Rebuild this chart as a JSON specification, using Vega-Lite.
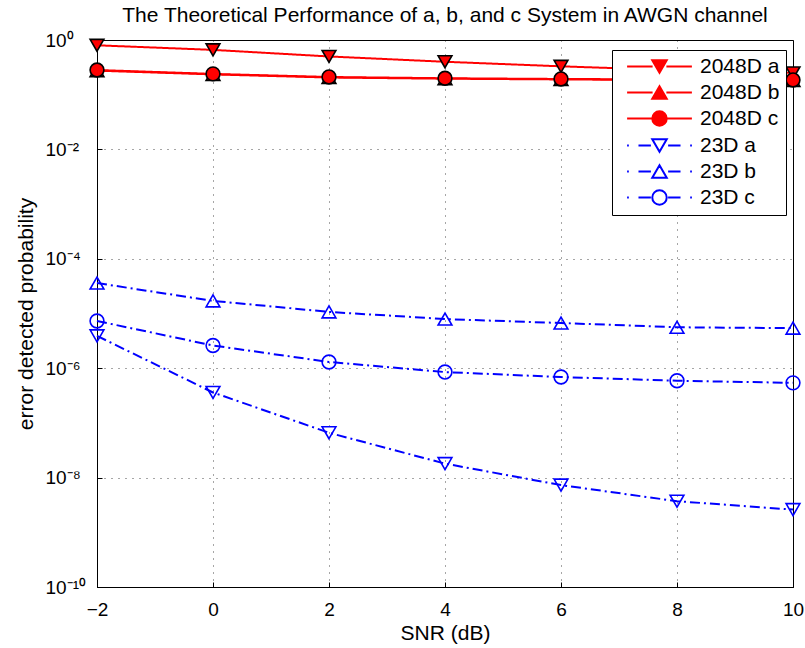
{
  "$schema": "https://vega.github.io/schema/vega-lite/v6.json",
  "width": 696,
  "height": 547,
  "autosize": {"type": "none"},
  "padding": {"left": 97, "top": 40, "right": 12, "bottom": 61},
  "background": "white",
  "title": {
    "text": "The Theoretical Performance of a, b, and c System in AWGN channel",
    "font": "Liberation Sans",
    "fontSize": 21,
    "fontWeight": "normal",
    "color": "black",
    "anchor": "middle",
    "frame": "group",
    "offset": 5
  },
  "data": {
    "values": [
      {"series": "2048D a", "snr": -2, "p": 0.8},
      {"series": "2048D a", "snr": 0, "p": 0.66},
      {"series": "2048D a", "snr": 2, "p": 0.5},
      {"series": "2048D a", "snr": 4, "p": 0.4},
      {"series": "2048D a", "snr": 6, "p": 0.33},
      {"series": "2048D a", "snr": 8, "p": 0.28},
      {"series": "2048D a", "snr": 10, "p": 0.25},
      {"series": "2048D b", "snr": -2, "p": 0.275},
      {"series": "2048D b", "snr": 0, "p": 0.235},
      {"series": "2048D b", "snr": 2, "p": 0.206},
      {"series": "2048D b", "snr": 4, "p": 0.196},
      {"series": "2048D b", "snr": 6, "p": 0.19},
      {"series": "2048D b", "snr": 8, "p": 0.185},
      {"series": "2048D b", "snr": 10, "p": 0.182},
      {"series": "2048D c", "snr": -2, "p": 0.283},
      {"series": "2048D c", "snr": 0, "p": 0.24},
      {"series": "2048D c", "snr": 2, "p": 0.211},
      {"series": "2048D c", "snr": 4, "p": 0.2},
      {"series": "2048D c", "snr": 6, "p": 0.194},
      {"series": "2048D c", "snr": 8, "p": 0.19},
      {"series": "2048D c", "snr": 10, "p": 0.186},
      {"series": "23D a", "snr": -2, "p": 3.9e-6},
      {"series": "23D a", "snr": 0, "p": 3.6e-7},
      {"series": "23D a", "snr": 2, "p": 6.6e-8},
      {"series": "23D a", "snr": 4, "p": 1.8e-8},
      {"series": "23D a", "snr": 6, "p": 7.3e-9},
      {"series": "23D a", "snr": 8, "p": 3.7e-9},
      {"series": "23D a", "snr": 10, "p": 2.6e-9},
      {"series": "23D b", "snr": -2, "p": 3.6e-5},
      {"series": "23D b", "snr": 0, "p": 1.7e-5},
      {"series": "23D b", "snr": 2, "p": 1.07e-5},
      {"series": "23D b", "snr": 4, "p": 7.9e-6},
      {"series": "23D b", "snr": 6, "p": 6.7e-6},
      {"series": "23D b", "snr": 8, "p": 5.6e-6},
      {"series": "23D b", "snr": 10, "p": 5.4e-6},
      {"series": "23D c", "snr": -2, "p": 7.3e-6},
      {"series": "23D c", "snr": 0, "p": 2.6e-6},
      {"series": "23D c", "snr": 2, "p": 1.3e-6},
      {"series": "23D c", "snr": 4, "p": 8.5e-7},
      {"series": "23D c", "snr": 6, "p": 6.9e-7},
      {"series": "23D c", "snr": 8, "p": 5.9e-7},
      {"series": "23D c", "snr": 10, "p": 5.4e-7}
    ]
  },
  "encoding": {
    "x": {
      "field": "snr",
      "type": "quantitative",
      "title": "SNR (dB)",
      "scale": {"domain": [-2, 10], "nice": false, "zero": false},
      "axis": {"values": [-2, 0, 2, 4, 6, 8, 10], "grid": true, "tickSize": -5, "labelPadding": 18, "titlePadding": 3, "labelFlush": false, "labelFontSize": 19}
    },
    "y": {
      "field": "p",
      "type": "quantitative",
      "title": "error detected probability",
      "scale": {"type": "log", "domain": [1e-10, 1], "nice": false},
      "axis": {
        "values": [1e-10, 1e-8, 1e-6, 1e-4, 1e-2, 1],
        "grid": true,
        "tickSize": -5,
        "labelPadding": 57,
        "labelAlign": "left",
        "labelFontSize": 19,
        "titlePadding": 9,
        "labelFlush": false,
        "labelExpr": "'10' + ['⁰','⁻²','⁻⁴','⁻⁶','⁻⁸','⁻¹⁰'][round(-log(datum.value)/LN10/2)]"
      }
    }
  },
  "layer": [
    {
      "data": {
        "values": [
          {"series": "2048D a"},
          {"series": "2048D b"},
          {"series": "2048D c"},
          {"series": "23D a"},
          {"series": "23D b"},
          {"series": "23D c"}
        ]
      },
      "mark": {"type": "point", "strokeWidth": 2, "size": 190, "opacity": 1},
      "encoding": {
        "shape": {
          "field": "series",
          "type": "nominal",
          "scale": {
            "domain": ["2048D a", "2048D b", "2048D c", "23D a", "23D b", "23D c"],
            "range": [
              "M-4.7,0H-1M1,0H4.7M-1.05,-0.9L1.05,-0.9L0,0.9Z",
              "M-4.7,0H-1M1,0H4.7M-1.05,0.9L1.05,0.9L0,-0.9Z",
              "M-4.7,0H-1M1,0H4.7M-1.05,0A1.05,1.05,0,1,0,1.05,0A1.05,1.05,0,1,0,-1.05,0Z",
              "M-4.7,0H-4.45M-3.05,0H-1.25M1.25,0H3.05M4.45,0H4.7M-1.05,-0.9L1.05,-0.9L0,0.9Z",
              "M-4.7,0H-4.45M-3.05,0H-1.25M1.25,0H3.05M4.45,0H4.7M-1.05,0.9L1.05,0.9L0,-0.9Z",
              "M-4.7,0H-4.45M-3.05,0H-1.25M1.25,0H3.05M4.45,0H4.7M-1.05,0A1.05,1.05,0,1,0,1.05,0A1.05,1.05,0,1,0,-1.05,0Z"
            ]
          },
          "legend": {"title": null, "orient": "none", "legendX": 515, "legendY": 10, "symbolOpacity": 1}
        },
        "stroke": {
          "field": "series",
          "type": "nominal",
          "scale": {
            "domain": ["2048D a", "2048D b", "2048D c", "23D a", "23D b", "23D c"],
            "range": ["#ff0000", "#ff0000", "#ff0000", "#0000ff", "#0000ff", "#0000ff"]
          },
          "legend": {"title": null, "orient": "none", "legendX": 515, "legendY": 10, "symbolOpacity": 1}
        },
        "fill": {
          "field": "series",
          "type": "nominal",
          "scale": {
            "domain": ["2048D a", "2048D b", "2048D c", "23D a", "23D b", "23D c"],
            "range": ["#ff0000", "#ff0000", "#ff0000", "transparent", "transparent", "transparent"]
          },
          "legend": {"title": null, "orient": "none", "legendX": 515, "legendY": 10, "symbolOpacity": 1}
        }
      }
    },
    {
      "mark": {"type": "line", "strokeWidth": 2},
      "encoding": {
        "color": {
          "field": "series",
          "type": "nominal",
          "scale": {
            "domain": ["2048D a", "2048D b", "2048D c", "23D a", "23D b", "23D c"],
            "range": ["#ff0000", "#ff0000", "#ff0000", "#0000ff", "#0000ff", "#0000ff"]
          },
          "legend": null
        },
        "strokeDash": {
          "field": "series",
          "type": "nominal",
          "scale": {
            "domain": ["2048D a", "2048D b", "2048D c", "23D a", "23D b", "23D c"],
            "range": [[1, 0], [1, 0], [1, 0], [10, 4, 2, 4], [10, 4, 2, 4], [10, 4, 2, 4]]
          },
          "legend": null
        }
      }
    },
    {
      "mark": {"type": "point", "size": 190, "strokeWidth": 1.6, "opacity": 1},
      "encoding": {
        "shape": {
          "field": "series",
          "type": "nominal",
          "scale": {
            "domain": ["2048D a", "2048D b", "2048D c", "23D a", "23D b", "23D c"],
            "range": ["triangle-down", "triangle-up", "circle", "triangle-down", "triangle-up", "circle"]
          },
          "legend": null
        },
        "stroke": {
          "field": "series",
          "type": "nominal",
          "scale": {
            "domain": ["2048D a", "2048D b", "2048D c", "23D a", "23D b", "23D c"],
            "range": ["#000000", "#000000", "#000000", "#0000ff", "#0000ff", "#0000ff"]
          },
          "legend": null
        },
        "fill": {
          "field": "series",
          "type": "nominal",
          "scale": {
            "domain": ["2048D a", "2048D b", "2048D c", "23D a", "23D b", "23D c"],
            "range": ["#ff0000", "#ff0000", "#ff0000", "transparent", "transparent", "transparent"]
          },
          "legend": null
        }
      }
    }
  ],
  "resolve": {
    "scale": {"shape": "independent", "stroke": "independent", "fill": "independent"},
    "legend": {"shape": "independent", "stroke": "independent", "fill": "independent"}
  },
  "config": {
    "view": {"stroke": "black", "strokeWidth": 1},
    "axis": {
      "domainColor": "black",
      "tickColor": "black",
      "labelColor": "black",
      "titleColor": "black",
      "labelFont": "Liberation Sans",
      "titleFont": "Liberation Sans",
      "labelFontSize": 19,
      "titleFontSize": 21,
      "titleFontWeight": "normal",
      "gridColor": "black",
      "gridDash": [1, 6],
      "gridOpacity": 0.7,
      "gridWidth": 1
    },
    "legend": {
      "padding": 6,
      "symbolOffset": 31,
      "labelOffset": 30,
      "rowPadding": 4,
      "labelFont": "Liberation Sans",
      "labelFontSize": 21,
      "labelColor": "black",
      "symbolSize": 190,
      "symbolStrokeWidth": 2,
      "symbolOpacity": 1,
      "direction": "vertical",
      "strokeColor": "black",
      "fillColor": "white",
      "cornerRadius": 0,
      "strokeWidth": 1
    }
  }
}
